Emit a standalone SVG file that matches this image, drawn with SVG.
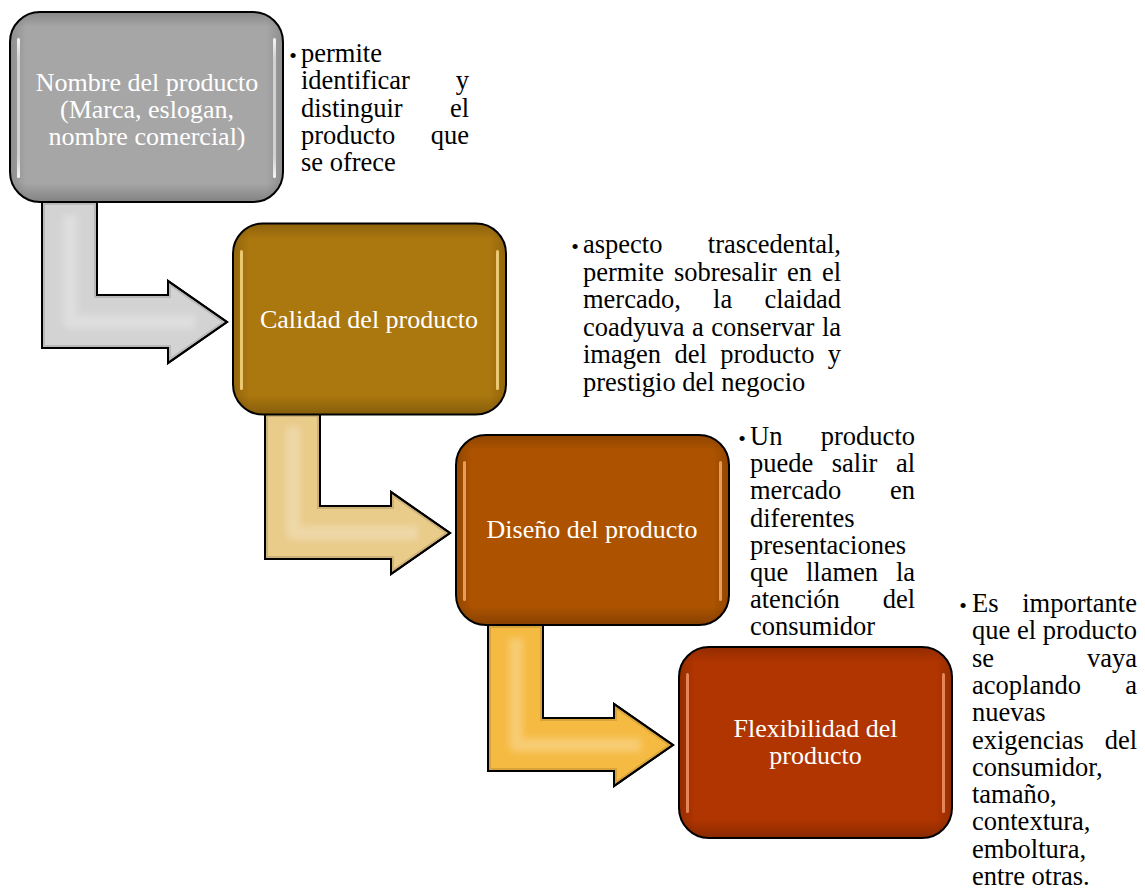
<svg xmlns="http://www.w3.org/2000/svg" width="1145" height="890" viewBox="0 0 1145 890">
<style>
.box{stroke:#000;stroke-width:2}
.shade{fill:url(#shadeV);stroke:none}
.shadeH{fill:url(#shadeH);stroke:none}
.hl{fill:url(#hlV)}
.arr{stroke:#000;stroke-width:2;stroke-linejoin:miter}
.arrin{fill:none;stroke:#000;stroke-opacity:0.12;stroke-width:6;stroke-linejoin:miter}
.arrhl{fill:none;stroke:#fff;stroke-opacity:0.25;stroke-width:14;stroke-linejoin:round;filter:url(#soft)}
.lbl{font-family:"Liberation Serif","Times New Roman",serif;font-size:26px;fill:#fff;text-anchor:middle}
.txt{font-family:"Liberation Serif","Times New Roman",serif;font-size:26.5px;fill:#000}
.r{text-anchor:end}
.bul{font-family:"Liberation Sans",Arial,sans-serif;font-size:19px;fill:#000;text-anchor:middle}
</style>
<defs>
<filter id="soft" x="-20%" y="-20%" width="140%" height="140%"><feGaussianBlur stdDeviation="3"/></filter>
<linearGradient id="shadeV" x1="0" y1="0" x2="0" y2="1">
<stop offset="0" stop-color="#000" stop-opacity="0.18"/>
<stop offset="0.08" stop-color="#000" stop-opacity="0"/>
<stop offset="0.9" stop-color="#000" stop-opacity="0"/>
<stop offset="1" stop-color="#000" stop-opacity="0.22"/>
</linearGradient>
<linearGradient id="shadeH" x1="0" y1="0" x2="1" y2="0">
<stop offset="0" stop-color="#000" stop-opacity="0.15"/>
<stop offset="0.06" stop-color="#000" stop-opacity="0"/>
<stop offset="0.94" stop-color="#000" stop-opacity="0"/>
<stop offset="1" stop-color="#000" stop-opacity="0.15"/>
</linearGradient>
<linearGradient id="hlV" x1="0" y1="0" x2="0" y2="1">
<stop offset="0" stop-color="#fff" stop-opacity="0.9"/>
<stop offset="0.15" stop-color="#fff" stop-opacity="0.55"/>
<stop offset="0.85" stop-color="#fff" stop-opacity="0.55"/>
<stop offset="1" stop-color="#fff" stop-opacity="0.9"/>
</linearGradient>
<clipPath id="c1"><path d="M42,202 L97,202 L97,295 L168,295 L168,281 L227,322 L168,363 L168,348 L42,348 Z"/></clipPath>
<clipPath id="c2"><path d="M265,414 L320,414 L320,506 L391,506 L391,492 L450,533 L391,574 L391,559 L265,559 Z"/></clipPath>
<clipPath id="c3"><path d="M488,625 L543,625 L543,718 L614,718 L614,704 L673,745 L614,786 L614,771 L488,771 Z"/></clipPath>
</defs>

<g id="connectors">
<path class="arr" fill="#D3D3D3" d="M42,202 L97,202 L97,295 L168,295 L168,281 L227,322 L168,363 L168,348 L42,348 Z"/>
<g clip-path="url(#c1)">
<path class="arrin" d="M42,202 L97,202 L97,295 L168,295 L168,281 L227,322 L168,363 L168,348 L42,348 Z"/>
<path class="arrhl" d="M70,215 L70,322 L195,322"/>
</g>
<path class="arr" fill="none" d="M42,202 L97,202 L97,295 L168,295 L168,281 L227,322 L168,363 L168,348 L42,348 Z"/>

<path class="arr" fill="#E9CB8A" d="M265,414 L320,414 L320,506 L391,506 L391,492 L450,533 L391,574 L391,559 L265,559 Z"/>
<g clip-path="url(#c2)">
<path class="arrin" d="M265,414 L320,414 L320,506 L391,506 L391,492 L450,533 L391,574 L391,559 L265,559 Z"/>
<path class="arrhl" d="M293,427 L293,533 L418,533"/>
</g>
<path class="arr" fill="none" d="M265,414 L320,414 L320,506 L391,506 L391,492 L450,533 L391,574 L391,559 L265,559 Z"/>

<path class="arr" fill="#F5BA42" d="M488,625 L543,625 L543,718 L614,718 L614,704 L673,745 L614,786 L614,771 L488,771 Z"/>
<g clip-path="url(#c3)">
<path class="arrin" d="M488,625 L543,625 L543,718 L614,718 L614,704 L673,745 L614,786 L614,771 L488,771 Z"/>
<path class="arrhl" d="M516,638 L516,745 L641,745"/>
</g>
<path class="arr" fill="none" d="M488,625 L543,625 L543,718 L614,718 L614,704 L673,745 L614,786 L614,771 L488,771 Z"/>
</g>

<g id="node1">
<rect class="box" x="10" y="12" width="273" height="190" rx="30" fill="#A6A6A6"/>
<rect class="shade" x="10" y="12" width="273" height="190" rx="30"/>
<rect class="shadeH" x="10" y="12" width="273" height="190" rx="30"/>
<rect class="hl" x="17" y="38" width="3" height="140" rx="1.5"/>
<rect class="hl" x="273" y="38" width="3" height="140" rx="1.5"/>
<text class="lbl" x="147" y="91">Nombre del producto</text>
<text class="lbl" x="147" y="118">(Marca, eslogan,</text>
<text class="lbl" x="147" y="145">nombre comercial)</text>
</g>

<g id="node2">
<rect class="box" x="233" y="223.5" width="273" height="191" rx="30" fill="#AB770F"/>
<rect class="shade" x="233" y="223.5" width="273" height="191" rx="30"/>
<rect class="shadeH" x="233" y="223.5" width="273" height="191" rx="30"/>
<rect class="hl" x="240" y="250" width="3" height="140" rx="1.5" style="fill:#FFE08A;opacity:0.8"/>
<rect class="hl" x="496" y="250" width="3" height="140" rx="1.5" style="fill:#FFE08A;opacity:0.8"/>
<text class="lbl" x="369" y="328">Calidad del producto</text>
</g>

<g id="node3">
<rect class="box" x="456" y="435" width="273" height="190" rx="30" fill="#AD5300"/>
<rect class="shade" x="456" y="435" width="273" height="190" rx="30"/>
<rect class="shadeH" x="456" y="435" width="273" height="190" rx="30"/>
<rect class="hl" x="463" y="461" width="3" height="140" rx="1.5" style="fill:#F7B070;opacity:0.8"/>
<rect class="hl" x="719" y="461" width="3" height="140" rx="1.5" style="fill:#F7B070;opacity:0.8"/>
<text class="lbl" x="592" y="538">Diseño del producto</text>
</g>

<g id="node4">
<rect class="box" x="679" y="647" width="273" height="191" rx="30" fill="#B13500"/>
<rect class="shade" x="679" y="647" width="273" height="191" rx="30"/>
<rect class="shadeH" x="679" y="647" width="273" height="191" rx="30"/>
<rect class="hl" x="686" y="673" width="3" height="140" rx="1.5" style="fill:#F59A70;opacity:0.8"/>
<rect class="hl" x="942" y="673" width="3" height="140" rx="1.5" style="fill:#F59A70;opacity:0.8"/>
<text class="lbl" x="815.5" y="737">Flexibilidad del</text>
<text class="lbl" x="815.5" y="764">producto</text>
</g>

<g id="text1">
<text class="bul" x="293" y="62">•</text>
<text class="txt" x="301" y="62">permite</text>
<text class="txt" x="301" y="89.3">identificar</text><text class="txt r" x="469" y="89.3">y</text>
<text class="txt" x="301" y="116.6">distinguir</text><text class="txt r" x="469" y="116.6">el</text>
<text class="txt" x="301" y="143.9">producto</text><text class="txt r" x="469" y="143.9">que</text>
<text class="txt" x="301" y="171.2">se ofrece</text>
</g>

<g id="text2">
<text class="bul" x="575" y="253">•</text>
<text class="txt" x="583" y="253">aspecto</text><text class="txt r" x="841" y="253">trascedental,</text>
<text class="txt" x="583" y="280.6">permite</text><text class="txt" x="673.9" y="280.6">sobresalir</text><text class="txt" x="786.9" y="280.6">en</text><text class="txt r" x="841" y="280.6">el</text>
<text class="txt" x="583" y="308.2">mercado,</text><text class="txt" x="713.1" y="308.2">la</text><text class="txt r" x="841" y="308.2">claidad</text>
<text class="txt" x="583" y="335.8">coadyuva</text><text class="txt" x="692.1" y="335.8">a</text><text class="txt" x="711.3" y="335.8">conservar</text><text class="txt r" x="841" y="335.8">la</text>
<text class="txt" x="583" y="363.4">imagen</text><text class="txt" x="674.4" y="363.4">del</text><text class="txt" x="720.2" y="363.4">producto</text><text class="txt r" x="841" y="363.4">y</text>
<text class="txt" x="583" y="391">prestigio del negocio</text>
</g>

<g id="text3">
<text class="bul" x="742" y="445">•</text>
<text class="txt" x="750" y="445">Un</text><text class="txt r" x="915" y="445">producto</text>
<text class="txt" x="750" y="472.2">puede</text><text class="txt" x="831.8" y="472.2">salir</text><text class="txt r" x="915" y="472.2">al</text>
<text class="txt" x="750" y="499.4">mercado</text><text class="txt r" x="915" y="499.4">en</text>
<text class="txt" x="750" y="526.6">diferentes</text>
<text class="txt" x="750" y="553.8">presentaciones</text>
<text class="txt" x="750" y="581">que</text><text class="txt" x="806" y="581">llamen</text><text class="txt r" x="915" y="581">la</text>
<text class="txt" x="750" y="608.2">atención</text><text class="txt r" x="915" y="608.2">del</text>
<text class="txt" x="750" y="635.4">consumidor</text>
</g>

<g id="text4">
<text class="bul" x="963" y="612">•</text>
<text class="txt" x="972" y="612">Es</text><text class="txt r" x="1137" y="612">importante</text>
<text class="txt" x="972" y="639.3">que</text><text class="txt" x="1017" y="639.3">el</text><text class="txt r" x="1137" y="639.3">producto</text>
<text class="txt" x="972" y="666.6">se</text><text class="txt r" x="1137" y="666.6">vaya</text>
<text class="txt" x="972" y="693.9">acoplando</text><text class="txt r" x="1137" y="693.9">a</text>
<text class="txt" x="972" y="721.2">nuevas</text>
<text class="txt" x="972" y="748.5">exigencias</text><text class="txt r" x="1137" y="748.5">del</text>
<text class="txt" x="972" y="775.8">consumidor,</text>
<text class="txt" x="972" y="803.1">tamaño,</text>
<text class="txt" x="972" y="830.4">contextura,</text>
<text class="txt" x="972" y="857.7">emboltura,</text>
<text class="txt" x="972" y="885">entre otras.</text>
</g>
</svg>
